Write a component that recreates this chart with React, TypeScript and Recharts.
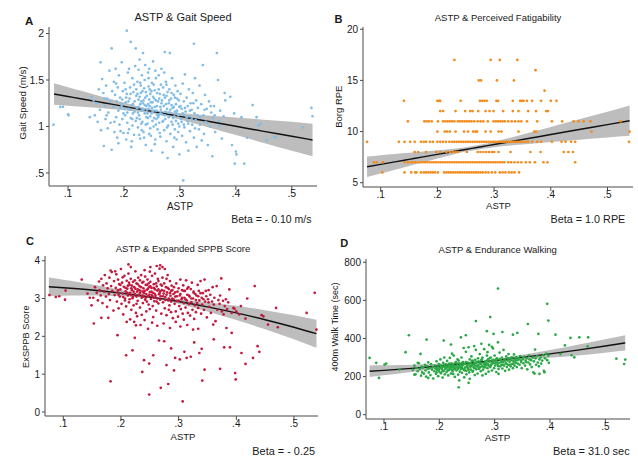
import { Area, ComposedChart, Line, Scatter, XAxis, YAxis } from 'recharts'

type Pair = [number, number]

const astpTicks = [0.1, 0.2, 0.3, 0.4, 0.5]
const gaitTicks = [0.5, 1, 1.5, 2]
const borgTicks = [5, 10, 15, 20]
const sppbTicks = [0, 1, 2, 3, 4]
const walkTicks = [0, 200, 400, 600, 800]

// A: ASTP vs gait speed (m/s)
const gaitPoints: Pair[] = [
  [.074,1.02],[.086,1.21],[.091,1.21],[.100,1.13],[.101,1.12],[.139,1.10],[.158,1.69],
  [.142,1.32],[.148,1.12],[.151,1.25],[.153,1.05],[.155,1.40],[.157,1.18],[.159,0.96],[.146,1.28],
  [.161,1.51],[.163,1.36],[.164,0.79],[.166,1.22],[.167,1.08],[.168,1.44],[.170,1.30],[.171,0.98],[.172,1.15],
  [.174,1.60],[.175,1.27],[.176,1.04],[.178,0.75],[.178,1.84],[.179,1.38],[.165,1.30],[.169,1.12],
  [.181,1.21],[.182,1.48],[.183,0.94],[.184,1.34],[.185,1.62],[.186,1.10],[.187,1.27],[.188,0.88],[.189,1.42],
  [.190,1.17],[.191,1.55],[.192,1.02],[.193,1.31],[.194,0.95],[.195,1.24],[.196,1.69],[.197,1.08],[.198,1.38],
  [.199,1.14],[.186,1.46],[.190,0.82],[.194,1.20],[.183,1.05],[.197,1.29],[.199,0.93],
  [.201,1.47],[.202,1.12],[.203,1.26],[.204,0.86],[.205,2.03],[.205,1.35],[.206,1.04],[.207,1.58],[.208,1.19],
  [.209,0.97],[.210,1.30],[.211,1.42],[.212,1.91],[.212,1.09],[.213,0.78],[.214,1.23],[.215,1.52],[.216,1.14],
  [.217,1.37],[.218,0.91],[.219,1.27],[.220,1.65],[.221,1.84],[.221,1.06],[.222,1.33],[.203,1.40],[.207,0.93],
  [.211,1.18],[.215,1.01],[.218,1.45],[.209,1.62],[.214,0.84],
  [.223,1.20],[.224,1.48],[.225,0.99],[.226,1.29],[.227,1.12],[.228,1.72],[.229,0.87],[.230,1.36],[.231,1.17],
  [.232,1.55],[.233,1.05],[.234,1.79],[.234,1.25],[.235,0.94],[.236,1.41],[.237,1.14],[.238,1.31],[.239,0.80],
  [.240,1.22],[.226,1.61],[.228,1.08],[.230,1.44],[.232,0.96],[.235,1.18],[.237,1.50],[.239,1.02],[.224,1.35],
  [.231,1.27],[.236,0.88],[.238,1.66],[.240,1.10],[.227,0.91],[.233,1.38],[.229,1.24],[.225,1.15],
  [.241,1.33],[.242,1.03],[.243,1.58],[.244,1.19],[.245,0.92],[.246,1.40],[.247,1.11],[.248,1.26],[.249,0.74],
  [.250,1.47],[.251,1.16],[.252,1.70],[.253,1.00],[.254,1.30],[.255,1.21],[.256,0.86],[.257,1.52],[.258,1.08],
  [.259,1.36],[.260,0.97],[.243,1.24],[.245,1.62],[.247,0.98],[.249,1.38],[.251,1.06],[.253,1.45],[.255,0.81],
  [.257,1.28],[.259,1.13],[.242,1.14],[.244,1.43],[.246,1.22],[.248,0.90],[.250,1.20],[.252,1.32],[.254,1.09],
  [.256,1.60],[.258,1.17],
  [.261,1.27],[.262,1.55],[.263,1.04],[.264,1.35],[.265,0.89],[.266,1.18],[.267,1.62],[.268,1.13],[.269,0.72],
  [.270,1.42],[.271,1.22],[.272,0.96],[.273,1.80],[.273,1.31],[.274,1.08],[.275,1.48],[.276,0.84],[.277,1.19],
  [.278,1.37],[.279,1.01],[.280,1.25],[.262,1.12],[.264,0.93],[.266,1.45],[.268,1.28],[.270,1.06],[.272,1.58],
  [.274,1.16],[.276,1.33],[.278,0.66],[.280,1.10],[.265,1.21],
  [.281,1.40],[.282,1.79],[.282,1.15],[.283,0.92],[.284,1.30],[.285,1.05],[.286,1.52],[.287,1.20],[.288,0.78],
  [.289,1.34],[.290,1.11],[.291,0.97],[.292,1.44],[.293,1.24],[.294,0.86],[.295,1.17],[.296,1.38],[.297,1.03],
  [.298,1.28],[.299,0.70],[.285,1.23],[.288,1.09],[.291,1.31],[.294,1.14],[.297,0.94],[.299,1.21],
  [.301,1.35],[.302,1.08],[.303,1.19],[.304,0.90],[.305,1.46],[.306,0.42],[.306,1.13],[.307,1.27],[.308,0.99],
  [.309,1.56],[.310,1.16],[.311,0.83],[.312,1.31],[.313,1.06],[.314,1.22],[.315,0.74],[.316,1.40],[.317,1.11],
  [.318,0.95],[.319,1.25],
  [.321,1.18],[.322,1.02],[.323,1.36],[.325,1.89],[.325,0.88],[.326,1.14],[.327,1.52],[.328,1.07],[.329,1.28],
  [.330,0.78],[.332,1.20],[.334,0.97],[.335,1.44],[.336,1.10],[.338,1.24],[.339,0.85],
  [.341,1.66],[.342,1.12],[.343,0.92],[.345,1.34],[.346,1.05],[.348,1.19],[.350,0.80],[.352,1.27],[.354,1.00],
  [.356,1.15],[.358,0.68],[.359,1.09],
  [.361,1.22],[.363,0.94],[.366,1.79],[.368,1.50],[.369,1.06],[.370,1.01],[.372,1.17],[.375,0.87],[.378,1.11],
  [.380,1.36],[.381,1.28],[.390,1.32],[.393,0.80],[.397,1.14],[.398,0.60],[.400,0.73],[.401,0.70],[.410,1.10],
  [.415,0.60],[.420,0.88],[.430,1.23],[.437,1.10],[.440,1.01],[.444,1.03],[.455,0.85],[.469,0.89],[.471,0.88],
  [.520,0.99],[.535,1.20],[.537,1.11],
  [.196,1.22],[.201,1.19],[.204,1.31],[.206,1.15],[.208,1.27],[.212,1.35],[.216,1.24],[.219,1.16],[.222,1.40],
  [.223,1.09],[.226,1.21],[.228,1.32],[.231,1.03],[.233,1.19],[.235,1.28],[.237,1.23],[.239,1.37],[.241,1.18],
  [.243,1.09],[.245,1.29],[.247,1.35],[.249,1.14],[.251,1.26],[.253,1.17],[.255,1.39],[.257,1.02],[.259,1.22],
  [.261,1.10],[.263,1.30],[.265,1.14],[.267,1.25],[.269,1.05],[.271,1.34],[.273,1.12],[.275,1.24],[.277,0.99],
  [.279,1.15],[.281,1.28],[.283,1.18],[.285,1.36],[.287,1.02],[.289,1.21],[.291,1.16],[.293,1.06],[.295,1.30],
  [.297,1.12],[.299,1.00],[.301,1.22],[.303,1.05],[.305,1.14],[.307,1.02],[.309,1.20],[.312,1.10],[.315,1.03],
  [.318,1.17],[.321,1.08],[.324,1.25],[.327,0.98],[.331,1.12],[.336,1.02],[.344,1.18],[.349,1.04],[.355,1.22],
  [.362,1.12],[.215,1.08],[.229,1.47],[.244,1.52],[.262,1.40],[.276,1.45],[.290,0.88],
]
const fitXA = [.075, .10, .125, .15, .175, .20, .225, .25, .275, .30, .35, .40, .45, .50, .537]
const fitA = [1.350, 1.323, 1.296, 1.270, 1.243, 1.216, 1.189, 1.163, 1.136, 1.109, 1.056, 1.002, 0.948, 0.895, 0.855]
const loA = [1.235, 1.223, 1.211, 1.201, 1.188, 1.176, 1.161, 1.142, 1.112, 1.074, 0.993, 0.908, 0.823, 0.739, 0.680]
const hiA = [1.465, 1.423, 1.381, 1.339, 1.298, 1.257, 1.217, 1.184, 1.160, 1.144, 1.119, 1.096, 1.073, 1.051, 1.030]

// B: ASTP vs Borg RPE (integer levels)
const borgLevels = [6, 7, 8, 9, 10, 11, 12, 13, 14, 15, 16, 17]
const borgAstp: number[][] = [
  [.103,.142,.154,.161,.163,.171,.176,.180,.184,.188,.192,.196,.201,.212,.216,.220,.224,.228,.232,.236,.240,.244,.248,.252,.256,.260,.264,.268,.272,.276,.280,.285,.290,.296,.302,.310,.315,.320,.326,.331,.336,.344],
  [.088,.093,.104,.142,.148,.153,.157,.161,.166,.170,.174,.178,.182,.186,.190,.194,.198,.202,.206,.210,.214,.218,.222,.226,.230,.234,.238,.242,.246,.250,.254,.258,.262,.266,.270,.274,.278,.282,.286,.290,.294,.298,.302,.306,.310,.314,.318,.325,.330,.336,.342,.348,.356,.363,.372,.387,.394,.443],
  [.160,.166,.180,.198,.205,.216,.222,.227,.232,.236,.252,.271,.276,.281,.286,.291,.296,.300,.308,.329,.364,.382,.423,.431,.439],
  [.076,.132,.142,.152,.160,.171,.176,.180,.187,.192,.200,.205,.210,.215,.221,.226,.230,.234,.238,.242,.246,.250,.254,.258,.262,.266,.270,.274,.278,.282,.286,.290,.294,.298,.302,.306,.310,.314,.318,.322,.326,.330,.334,.338,.342,.346,.350,.355,.360,.367,.376,.383,.402,.419,.426,.436,.443,.538],
  [.200,.213,.217,.222,.232,.247,.254,.263,.267,.270,.285,.294,.308,.313,.343,.371,.374,.472,.539],
  [.148,.177,.181,.185,.190,.201,.210,.214,.218,.222,.226,.230,.236,.240,.244,.248,.252,.256,.260,.265,.271,.276,.281,.289,.299,.303,.307,.311,.315,.319,.325,.331,.337,.343,.348,.358,.376,.402,.420,.440,.449,.458,.470,.523],
  [.205,.210,.232,.249,.258,.262,.272,.285,.292,.299,.316,.333,.343,.360,.374,.392,.395],
  [.141,.200,.203,.205,.241,.275,.279,.283,.287,.304,.307,.333,.346,.349,.352,.358,.367,.383,.400,.410],
  [.389],
  [.273,.277,.305,.335],
  [.373],
  [.230,.294,.310,.341],
]
const fitXB = [.076, .10, .125, .15, .175, .20, .225, .25, .275, .30, .35, .40, .45, .50, .539]
const fitB = [6.56, 6.79, 7.04, 7.28, 7.52, 7.77, 8.01, 8.25, 8.49, 8.74, 9.22, 9.71, 10.20, 10.68, 11.06]
const loB = [5.56, 5.89, 6.27, 6.64, 7.00, 7.37, 7.72, 8.04, 8.28, 8.47, 8.73, 8.97, 9.20, 9.42, 9.58]
const hiB = [7.56, 7.69, 7.81, 7.92, 8.04, 8.17, 8.30, 8.47, 8.70, 9.01, 9.71, 10.45, 11.20, 11.94, 12.55]

// C: ASTP vs expanded SPPB score
const sppbPoints: Pair[] = [
  [.076,3.09],[.087,3.04],[.093,3.06],[.103,2.97],[.104,3.21],[.132,3.50],[.142,3.13],[.146,3.02],[.149,2.82],[.153,2.34],
  [.152,3.02],[.155,3.30],[.158,3.15],[.160,2.95],[.162,3.45],[.163,3.22],[.165,3.08],[.166,3.52],[.168,2.88],[.169,3.35],
  [.166,2.49],[.178,2.49],[.194,2.03],[.182,0.81],
  [.171,3.18],[.172,3.62],[.174,3.05],[.175,3.40],[.176,2.78],[.177,3.27],[.179,3.12],[.180,3.55],[.181,2.96],[.183,3.33],
  [.184,3.70],[.185,3.20],[.187,2.68],[.188,3.46],[.189,3.09],[.182,3.74],[.190,3.72],
  [.191,3.28],[.192,3.64],[.193,2.92],[.194,3.16],[.195,3.50],[.196,2.74],[.197,3.38],[.198,3.05],[.199,3.24],[.200,3.78],
  [.201,2.86],[.202,3.42],[.203,3.13],[.204,2.58],[.205,3.31],[.206,3.60],[.207,3.00],[.208,3.19],[.209,2.79],[.210,3.47],
  [.196,3.10],[.203,3.56],[.207,2.95],[.209,1.50],[.210,2.38],
  [.211,3.26],[.212,3.08],[.213,3.66],[.214,2.90],[.215,3.36],[.216,3.15],[.217,3.52],[.218,2.70],[.219,3.22],[.220,3.01],
  [.221,3.44],[.222,2.82],[.223,3.30],[.224,3.12],[.225,3.72],[.226,2.62],[.227,3.40],[.228,3.18],[.229,2.94],[.230,3.55],
  [.212,3.34],[.215,2.98],[.218,3.27],[.221,3.05],[.224,3.48],[.227,2.86],[.229,3.24],[.216,2.45],[.223,2.38],[.228,2.53],
  [.213,3.90],[.217,3.83],[.220,1.63],[.224,1.96],[.226,2.29],
  [.231,3.09],[.232,3.33],[.233,2.76],[.234,3.20],[.235,3.62],[.236,3.02],[.237,3.42],[.238,2.88],[.239,3.27],[.240,3.14],
  [.241,3.75],[.242,2.97],[.243,3.36],[.244,2.66],[.245,3.23],[.246,3.50],[.247,3.06],[.248,2.84],[.249,3.31],[.250,3.17],
  [.233,3.48],[.236,2.57],[.239,3.05],[.242,3.58],[.245,2.92],[.248,3.40],[.250,2.72],[.234,2.30],[.241,2.43],[.247,2.20],
  [.238,3.18],[.244,3.12],[.237,1.06],[.240,1.37],[.249,1.28],[.249,0.46],[.250,3.71],
  [.251,3.44],[.252,2.99],[.253,3.28],[.254,3.60],[.255,2.80],[.256,3.15],[.257,3.38],[.258,2.93],[.259,3.66],[.260,3.07],
  [.261,2.68],[.262,3.32],[.263,3.21],[.264,3.52],[.265,2.87],[.266,3.11],[.267,3.79],[.268,2.97],[.269,3.37],[.270,2.60],
  [.253,3.10],[.256,2.51],[.259,3.24],[.262,2.92],[.265,3.46],[.268,3.19],[.254,2.36],[.263,2.28],[.257,3.02],
  [.251,3.83],[.262,3.86],[.268,3.88],[.256,1.50],[.266,1.89],[.269,0.64],
  [.271,3.22],[.272,3.55],[.273,2.90],[.274,3.13],[.275,3.40],[.276,2.74],[.277,3.04],[.278,3.30],[.279,2.56],[.280,3.16],
  [.281,3.62],[.282,2.95],[.283,3.25],[.284,2.82],[.285,3.46],[.286,3.07],[.287,2.64],[.288,3.34],[.289,3.00],[.290,2.48],
  [.274,2.34],[.279,3.52],[.283,2.70],[.287,3.20],[.276,3.78],[.285,2.22],[.272,3.83],
  [.275,1.87],[.279,1.24],[.282,0.74],[.287,1.68],
  [.291,3.12],[.292,3.30],[.293,2.86],[.294,3.05],[.295,2.66],[.296,3.40],[.297,2.93],[.298,3.18],[.299,2.52],[.300,3.27],
  [.301,2.80],[.302,3.08],[.303,3.50],[.304,2.72],[.305,2.98],[.306,3.22],[.307,2.60],[.308,3.35],[.309,2.88],[.310,3.02],
  [.295,2.38],[.303,2.26],[.309,2.44],[.292,1.10],[.294,1.43],[.302,1.39],[.307,0.28],[.310,1.59],
  [.311,3.20],[.312,2.76],[.313,3.48],[.314,2.95],[.315,3.10],[.316,2.62],[.317,3.30],[.318,2.85],[.319,3.05],[.320,2.55],
  [.321,3.25],[.322,2.90],[.323,3.42],[.324,2.70],[.325,3.00],[.326,3.15],[.327,2.46],[.328,2.82],[.329,3.12],[.330,2.64],
  [.315,2.30],[.325,2.18],[.314,1.43],[.321,1.46],[.327,1.84],
  [.331,3.08],[.332,2.88],[.333,3.36],[.334,2.75],[.335,3.20],[.336,2.95],[.338,3.46],[.339,2.60],[.340,3.02],[.341,2.84],
  [.342,3.14],[.344,2.70],[.345,3.50],[.346,2.92],[.348,3.06],[.349,2.50],[.334,2.20],[.336,1.56],[.340,1.67],[.341,0.83],
  [.345,1.12],
  [.351,2.98],[.352,3.22],[.353,2.78],[.355,3.10],[.356,2.62],[.358,2.92],[.359,3.30],[.361,2.84],[.362,3.02],[.364,2.40],
  [.366,3.33],[.367,2.70],[.369,2.96],[.360,2.31],[.361,1.92],
  [.371,2.86],[.372,3.08],[.374,3.53],[.375,2.66],[.377,2.94],[.378,2.58],[.380,2.80],[.382,2.98],[.384,2.72],[.386,2.90],
  [.388,3.24],[.372,1.14],[.379,1.71],[.383,2.22],[.389,1.71],[.392,2.09],
  [.392,2.62],[.395,2.75],[.397,2.73],[.400,2.66],[.405,2.58],[.408,2.80],[.398,1.03],[.399,0.86],[.409,1.56],
  [.416,1.27],[.416,2.47],[.419,3.00],[.429,1.43],[.432,3.33],[.437,1.74],[.440,1.59],[.444,2.56],[.447,2.53],
  [.455,2.31],[.469,2.75],[.472,2.24],[.522,2.62],[.536,3.15],[.539,2.18],
  [.195,3.22],[.199,3.36],[.204,3.04],[.208,3.28],[.211,3.15],[.214,3.42],[.217,3.09],[.219,3.34],[.222,3.18],
  [.225,3.26],[.227,3.05],[.229,3.38],[.231,3.22],[.233,3.14],[.235,3.30],[.237,3.08],[.239,3.44],[.241,3.20],
  [.243,3.02],[.245,3.36],[.247,3.26],[.249,3.10],[.251,3.32],[.253,3.18],[.255,3.06],[.257,3.28],[.259,3.12],
  [.261,3.40],[.263,3.00],[.265,3.24],[.267,3.14],[.269,3.06],[.271,3.34],[.273,3.06],[.275,3.20],[.277,2.96],
  [.279,3.10],[.281,3.28],[.283,3.00],[.285,3.14],[.287,2.92],[.289,3.22],[.291,2.98],[.294,3.16],[.297,3.06],
  [.300,2.94],[.303,3.12],[.306,3.02],[.309,3.20],[.312,2.98],[.315,3.26],[.318,3.08],[.322,3.00],[.326,3.18],
  [.330,2.96],[.334,3.06],[.338,3.14],[.343,2.98],[.347,3.20],[.352,2.90],
]
const fitXC = [.075, .10, .125, .15, .175, .20, .225, .25, .275, .30, .35, .40, .45, .50, .539]
const fitC = [3.31, 3.286, 3.258, 3.225, 3.186, 3.142, 3.094, 3.041, 2.983, 2.92, 2.779, 2.619, 2.439, 2.24, 2.07]
const loC = [3.064, 3.073, 3.077, 3.077, 3.070, 3.057, 3.039, 3.008, 2.947, 2.859, 2.656, 2.432, 2.186, 1.922, 1.70]
const hiC = [3.556, 3.499, 3.439, 3.373, 3.302, 3.227, 3.149, 3.074, 3.019, 2.981, 2.902, 2.806, 2.692, 2.558, 2.44]

// D: ASTP vs 400m walk time (sec)
const walkPoints: Pair[] = [
  [.074,298],[.086,272],[.091,193],[.101,263],[.104,268],[.128,237],[.139,328],[.145,417],[.155,210],[.161,272],
  [.166,319],[.177,394],[.180,193],
  [.152,235],[.155,258],[.157,212],[.159,245],[.161,228],[.163,270],[.165,240],[.167,205],[.168,252],[.169,222],
  [.171,248],[.172,215],[.174,262],[.175,232],[.176,200],[.178,255],[.179,240],[.180,275],[.181,222],[.183,244],
  [.184,208],[.185,265],[.187,236],[.188,250],[.189,190],
  [.191,228],[.192,258],[.193,242],[.194,214],[.195,280],[.196,235],[.197,250],[.198,202],[.199,266],[.200,226],
  [.201,245],[.202,290],[.203,218],[.204,256],[.205,238],[.206,195],[.207,272],[.208,230],[.209,250],[.210,212],
  [.195,222],[.200,262],[.205,248],[.209,300],[.208,389],
  [.211,240],[.212,264],[.213,224],[.214,282],[.215,248],[.216,206],[.217,256],[.218,234],[.219,298],[.220,244],
  [.221,216],[.222,270],[.223,250],[.224,228],[.225,262],[.226,310],[.227,238],[.228,198],[.229,254],[.230,276],
  [.213,252],[.217,236],[.221,258],[.225,214],[.229,242],[.223,320],[.221,368],
  [.231,232],[.232,268],[.233,246],[.234,210],[.235,284],[.236,254],[.237,226],[.238,262],[.239,240],[.240,300],
  [.241,220],[.242,258],[.243,276],[.244,236],[.245,196],[.246,266],[.247,248],[.248,330],[.249,230],[.250,256],
  [.233,290],[.237,250],[.241,272],[.245,240],[.249,212],[.244,350],[.236,180],[.235,144],[.239,406],[.248,417],
  [.251,274],[.252,242],[.253,262],[.254,222],[.255,290],[.256,252],[.257,236],[.258,306],[.259,260],[.260,226],
  [.261,282],[.262,248],[.263,270],[.264,208],[.265,258],[.266,340],[.267,238],[.268,276],[.269,250],[.270,296],
  [.253,354],[.257,272],[.261,230],[.265,288],[.269,216],[.263,360],[.255,188],[.253,167],[.266,491],
  [.271,262],[.272,240],[.273,318],[.274,272],[.275,228],[.276,286],[.277,254],[.278,300],[.279,236],[.280,266],
  [.281,344],[.282,248],[.283,280],[.284,214],[.285,270],[.286,310],[.287,244],[.288,290],[.289,258],[.290,366],
  [.274,250],[.278,206],[.283,262],[.287,328],[.276,372],[.289,226],[.286,438],[.292,512],[.298,424],
  [.291,278],[.292,250],[.293,300],[.294,264],[.295,232],[.296,286],[.297,348],[.298,270],[.299,244],[.300,310],
  [.301,258],[.302,282],[.303,224],[.304,296],[.305,266],[.306,380],[.307,240],[.308,272],[.309,326],[.310,254],
  [.295,356],[.303,290],[.307,214],[.306,662],[.314,434],
  [.311,288],[.312,262],[.313,300],[.314,242],[.315,276],[.316,340],[.317,258],[.318,290],[.319,230],[.320,270],
  [.321,306],[.322,250],[.323,284],[.324,262],[.325,318],[.326,236],[.327,278],[.328,296],[.329,254],[.330,286],
  [.331,266],[.332,300],[.333,244],[.334,280],[.335,316],[.336,258],[.337,290],[.338,272],[.339,302],[.340,250],
  [.341,286],[.342,268],[.344,294],[.345,262],[.346,308],[.348,276],[.349,244],[.333,420],[.341,429],
  [.351,290],[.352,270],[.353,304],[.355,258],[.356,282],[.358,296],[.359,238],[.361,274],[.362,310],[.364,264],
  [.366,286],[.367,250],[.369,300],[.370,222],[.360,476],[.373,342],[.379,424],[.381,214],
  [.371,280],[.372,216],[.374,296],[.375,262],[.377,308],[.378,274],[.380,254],[.381,290],[.383,300],[.384,268],
  [.386,284],[.388,312],[.389,230],[.390,223],[.395,582],[.397,494],
  [.391,296],[.393,320],[.395,286],[.397,310],[.398,272],[.410,420],[.419,319],[.427,364],[.437,403],[.439,312],
  [.444,301],[.453,406],[.468,359],[.469,406],[.520,294],[.534,266],[.536,289],
  [.196,244],[.199,236],[.203,258],[.206,228],[.209,262],[.212,246],[.215,232],[.218,268],[.220,252],[.223,236],
  [.226,248],[.228,270],[.231,254],[.234,240],[.236,270],[.239,252],[.241,244],[.243,262],[.246,232],[.248,276],
  [.251,248],[.253,236],[.255,268],[.257,254],[.259,282],[.262,262],[.264,244],[.266,272],[.268,258],[.271,280],
  [.273,250],[.275,266],[.277,290],[.280,252],[.282,272],[.284,258],[.286,282],[.288,266],[.291,296],[.293,258],
  [.296,272],[.298,288],[.301,270],[.304,278],[.306,256],[.309,292],[.312,276],[.315,262],[.318,282],[.321,268],
  [.324,296],[.327,262],[.330,300],[.334,268],[.338,284],[.342,296],[.347,284],[.352,300],[.357,276],[.363,290],
]
const fitXD = [.074, .10, .125, .15, .175, .20, .225, .25, .275, .30, .35, .40, .45, .50, .536]
const fitD = [228, 232.8, 237.8, 243.2, 249.0, 255.3, 261.8, 268.8, 276.2, 284, 300.8, 319.1, 339, 360.6, 377]
const loD = [198, 206.4, 215.1, 224.1, 233.5, 243.1, 252.7, 262.1, 270.1, 276.5, 287.3, 298.6, 311.2, 325.4, 336.5]
const hiD = [258, 259.2, 260.5, 262.3, 264.5, 267.5, 270.9, 275.5, 282.3, 291.5, 314.3, 339.6, 366.8, 395.8, 417.5]

const FONT = '"Liberation Sans", Arial, Helvetica, sans-serif'
const AXIS = '#4a4a4a'

const toPoints = (pairs: Pair[]) => pairs.map(([x, y]) => ({ x, y }))
const toFit = (xs: number[], fit: number[], lo: number[], hi: number[]) =>
  xs.map((x, i) => ({ x, fit: fit[i], band: [lo[i], hi[i]] }))
const noZero = (v: number) => String(v).replace(/^0\./, '.')

const borgPoints = borgLevels.flatMap((lvl, i) => borgAstp[i].map((x) => ({ x, y: lvl })))

interface PanelProps {
  left: number
  top: number
  width: number
  height: number
  plot: [number, number, number, number] // x0, x1, y0, y1 in page px
  xDomain: [number, number]
  yDomain: [number, number]
  yTicks: number[]
  points: { x: number; y: number }[]
  fit: { x: number; fit: number; band: number[] }[]
  color: string
  tickFont: number
}

function Panel({ left, top, width, height, plot, xDomain, yDomain, yTicks, points, fit, color, tickFont }: PanelProps) {
  const wy = 40
  const hx = 24
  const [x0, x1, y0, y1] = plot
  const margin = {
    left: x0 - left - wy,
    right: left + width - x1,
    top: y0 - top,
    bottom: top + height - y1 - hx,
  }
  const tick = { fontSize: tickFont, fill: '#1a1a1a', fontFamily: FONT }
  return (
    <div style={{ position: 'absolute', left, top }}>
      <ComposedChart width={width} height={height} margin={margin}>
        <XAxis
          type="number"
          dataKey="x"
          domain={xDomain}
          ticks={astpTicks}
          allowDataOverflow
          tickFormatter={noZero}
          height={hx}
          tickSize={4}
          tickMargin={0}
          axisLine={{ stroke: AXIS }}
          tickLine={{ stroke: AXIS }}
          tick={tick}
        />
        <YAxis
          type="number"
          dataKey="y"
          domain={yDomain}
          ticks={yTicks}
          allowDataOverflow
          tickFormatter={noZero}
          width={wy}
          tickSize={3}
          tickMargin={2}
          axisLine={{ stroke: AXIS }}
          tickLine={{ stroke: AXIS }}
          tick={tick}
        />
        <Area
          data={fit}
          dataKey="band"
          type="monotone"
          stroke="none"
          fill="#bdbdbd"
          fillOpacity={1}
          isAnimationActive={false}
          activeDot={false}
        />
        <Scatter
          data={points}
          isAnimationActive={false}
          shape={(p: any) => <circle cx={p.cx} cy={p.cy} r={1.35} fill={color} />}
        />
        <Line
          data={fit}
          dataKey="fit"
          type="monotone"
          stroke="#111"
          strokeWidth={1.4}
          dot={false}
          activeDot={false}
          isAnimationActive={false}
        />
      </ComposedChart>
    </div>
  )
}

function Labels() {
  const t = { fontFamily: FONT, fill: '#1a1a1a' }
  return (
    <svg width={638} height={458} style={{ position: 'absolute', left: 0, top: 0, pointerEvents: 'none' }}>
      <g {...t}>
        <text x={25} y={24.5} fontSize={11.5} fontWeight="bold">A</text>
        <text x={183} y={21} fontSize={11} textAnchor="middle">ASTP &amp; Gait Speed</text>
        <text x={180} y={209.5} fontSize={10} textAnchor="middle">ASTP</text>
        <text x={311.5} y={223.3} fontSize={10.5} textAnchor="end">Beta = - 0.10 m/s</text>
        <text transform="translate(25.5,103) rotate(-90)" fontSize={9.7} textAnchor="middle">Gait Speed (m/s)</text>

        <text x={334.5} y={22.5} fontSize={11} fontWeight="bold">B</text>
        <text x={498} y={20.7} fontSize={9.5} textAnchor="middle">ASTP &amp; Perceived Fatigability</text>
        <text x={498.5} y={208.5} fontSize={9.5} textAnchor="middle">ASTP</text>
        <text x={625.3} y={223.3} fontSize={10.8} textAnchor="end">Beta = 1.0 RPE</text>
        <text transform="translate(341.5,106.7) rotate(-90)" fontSize={9.5} textAnchor="middle">Borg RPE</text>

        <text x={26} y={245.3} fontSize={11} fontWeight="bold">C</text>
        <text x={183} y={251.7} fontSize={9.5} textAnchor="middle">ASTP &amp; Expanded SPPB Score</text>
        <text x={183} y={440.3} fontSize={9.5} textAnchor="middle">ASTP</text>
        <text x={315} y={454.7} fontSize={10.9} textAnchor="end">Beta = - 0.25</text>
        <text transform="translate(28.5,336.7) rotate(-90)" fontSize={9.3} textAnchor="middle">ExSPPB Score</text>

        <text x={340.3} y={247} fontSize={11} fontWeight="bold">D</text>
        <text x={497.7} y={253.3} fontSize={9.5} textAnchor="middle">ASTP &amp; Endurance Walking</text>
        <text x={497.5} y={441.3} fontSize={9.8} textAnchor="middle">ASTP</text>
        <text x={629.7} y={454.7} fontSize={11} textAnchor="end">Beta = 31.0 sec</text>
        <text transform="translate(337.5,327) rotate(-90)" fontSize={9} textAnchor="middle">400m Walk Time (sec)</text>
      </g>
    </svg>
  )
}

export default function App() {
  return (
    <div style={{ position: 'absolute', left: 0, top: 0, width: 638, height: 458, background: '#fff', overflow: 'hidden' }}>
      <Panel
        left={0} top={0} width={320} height={229}
        plot={[49, 317, 27, 186]}
        xDomain={[0.066, 0.545]} yDomain={[0.36, 2.07]} yTicks={gaitTicks}
        points={toPoints(gaitPoints)} fit={toFit(fitXA, fitA, loA, hiA)}
        color="#82bde6" tickFont={10.5}
      />
      <Panel
        left={320} top={0} width={318} height={229}
        plot={[363, 633, 27, 187]}
        xDomain={[0.0688, 0.545]} yDomain={[4.58, 20.22]} yTicks={borgTicks}
        points={borgPoints} fit={toFit(fitXB, fitB, loB, hiB)}
        color="#f28c1e" tickFont={10}
      />
      <Panel
        left={0} top={229} width={320} height={229}
        plot={[45, 318, 256, 416]}
        xDomain={[0.0683, 0.5417]} yDomain={[-0.106, 4.124]} yTicks={sppbTicks}
        points={toPoints(sppbPoints)} fit={toFit(fitXC, fitC, loC, hiC)}
        color="#c4183c" tickFont={10}
      />
      <Panel
        left={320} top={229} width={318} height={229}
        plot={[366, 630, 259, 419]}
        xDomain={[0.0675, 0.5446]} yDomain={[-22.6, 817]} yTicks={walkTicks}
        points={toPoints(walkPoints)} fit={toFit(fitXD, fitD, loD, hiD)}
        color="#2aa845" tickFont={10}
      />
      <Labels />
    </div>
  )
}
